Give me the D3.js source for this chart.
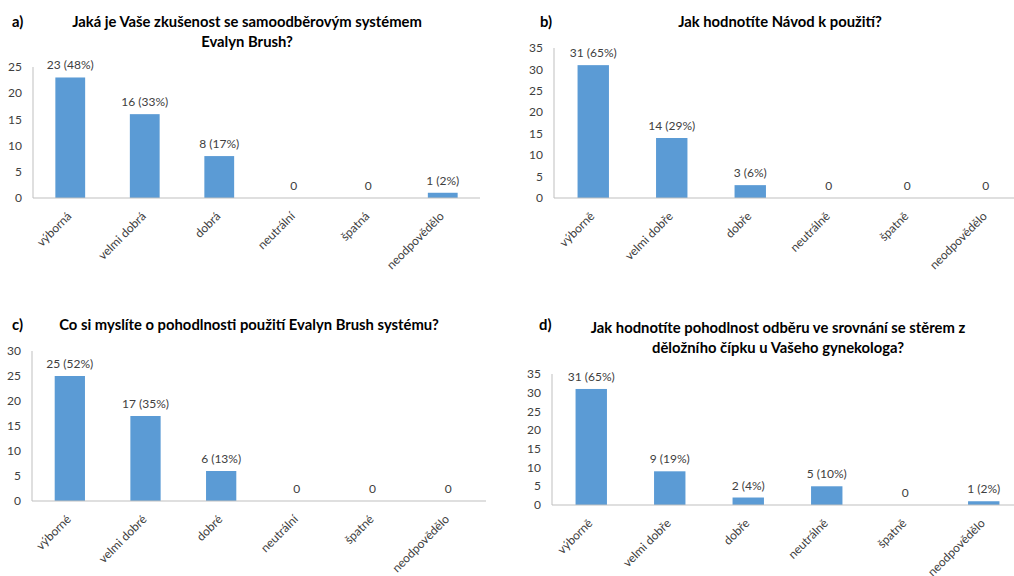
<!DOCTYPE html>
<html>
<head>
<meta charset="utf-8">
<script src="https://d3js.org/d3.v7.min.js"></script>
<style>
  html, body { margin: 0; padding: 0; background: #fff; }
  svg { display: block; font-family: Lato, "Open Sans", sans-serif; }
  .title { font-weight: bold; font-size: 14.8px; fill: #000; }
  .tick-label { font-size: 12px; fill: #404040; }
  .val-label { font-size: 12px; fill: #404040; }
  .axis-line { stroke: #bfbfbf; stroke-width: 1px; }
  .bar { fill: #5b9bd5; }
</style>
</head>
<body>
<svg width="1014" height="576"></svg>
<script>
// data
const catsA = ["výborná", "velmi dobrá", "dobrá", "neutrální", "špatná", "neodpovědělo"];
const valsA = [23, 16, 8, 0, 0, 1];
const pctA = ["48%", "33%", "17%", "", "", "2%"];

const catsB = ["výborně", "velmi dobře", "dobře", "neutrálně", "špatně", "neodpovědělo"];
const valsB = [31, 14, 3, 0, 0, 0];
const pctB = ["65%", "29%", "6%", "", "", ""];

const catsC = ["výborné", "velmi dobré", "dobré", "neutrální", "špatné", "neodpovědělo"];
const valsC = [25, 17, 6, 0, 0, 0];
const pctC = ["52%", "35%", "13%", "", "", ""];

const catsD = ["výborně", "velmi dobře", "dobře", "neutrálně", "špatně", "neodpovědělo"];
const valsD = [31, 9, 2, 5, 0, 1];
const pctD = ["65%", "19%", "4%", "10%", "", "2%"];

const titleA = ["Jaká je Vaše zkušenost se samoodběrovým systémem", "Evalyn Brush?"];
const titleB = ["Jak hodnotíte Návod k použití?"];
const titleC = ["Co si myslíte o pohodlnosti použití Evalyn Brush systému?"];
const titleD = ["Jak hodnotíte pohodlnost odběru ve srovnání se stěrem z", "děložního čípku u Vašeho gynekologa?"];

const svg = d3.select("svg");

const panels = [
  { letter: "a)", lx: 12, ly: 27, title: titleA, tx: 247, ty: 27, cats: catsA, vals: valsA, pct: pctA, yMax: 25,
    x0: 33, x1: 480, yTop: 67, yBase: 198 },
  { letter: "b)", lx: 540, ly: 27, title: titleB, tx: 780, ty: 27, cats: catsB, vals: valsB, pct: pctB, yMax: 35,
    x0: 554, x1: 1025, yTop: 48, yBase: 198 },
  { letter: "c)", lx: 12, ly: 330, title: titleC, tx: 249, ty: 330, cats: catsC, vals: valsC, pct: pctC, yMax: 30,
    x0: 32, x1: 486, yTop: 351, yBase: 501 },
  { letter: "d)", lx: 539, ly: 330, title: titleD, tx: 778, ty: 333, cats: catsD, vals: valsD, pct: pctD, yMax: 35,
    x0: 552, x1: 1023, yTop: 374, yBase: 505 }
];

panels.forEach(p => {
  const g = svg.append("g");

  const x = d3.scaleBand().domain(p.cats).range([p.x0, p.x1]).paddingInner(0.6).paddingOuter(0.3);
  const y = d3.scaleLinear().domain([0, p.yMax]).range([p.yBase, p.yTop]);

  // titles
  g.append("text").attr("class", "title").attr("x", p.lx).attr("y", p.ly).text(p.letter);
  p.title.forEach((t, i) => {
    g.append("text").attr("class", "title")
      .attr("x", p.tx).attr("y", p.ty + i * 20)
      .attr("text-anchor", "middle").text(t);
  });

  // y ticks
  g.selectAll(".ytick").data(y.ticks(p.yMax / 5)).join("text")
    .attr("class", "tick-label")
    .attr("x", p.x0 - 11).attr("y", d => y(d))
    .attr("dy", "0.35em").attr("text-anchor", "end")
    .text(d => d);

  // bars
  g.selectAll(".bar").data(p.vals).join("rect")
    .attr("class", "bar")
    .attr("x", (d, i) => x(p.cats[i]))
    .attr("width", x.bandwidth())
    .attr("y", d => y(d))
    .attr("height", d => y(0) - y(d));

  // value labels
  g.selectAll(".val-label").data(p.vals).join("text")
    .attr("class", "val-label")
    .attr("x", (d, i) => x(p.cats[i]) + x.bandwidth() / 2)
    .attr("y", d => y(d) - 8)
    .attr("text-anchor", "middle")
    .text((d, i) => d === 0 ? "0" : `${d} (${p.pct[i]})`);

  // axes lines
  g.append("line").attr("class", "axis-line")
    .attr("x1", p.x0).attr("x2", p.x0).attr("y1", p.yTop).attr("y2", p.yBase);
  g.append("line").attr("class", "axis-line")
    .attr("x1", p.x0).attr("x2", p.x1).attr("y1", p.yBase).attr("y2", p.yBase);

  // category labels, rotated
  g.selectAll(".cat").data(p.cats).join("text")
    .attr("class", "tick-label")
    .attr("text-anchor", "end")
    .attr("transform", d => `translate(${x(d) + x.bandwidth() / 2 + 2},${p.yBase + 19}) rotate(-45)`)
    .text(d => d);
});
</script>
</body>
</html>
